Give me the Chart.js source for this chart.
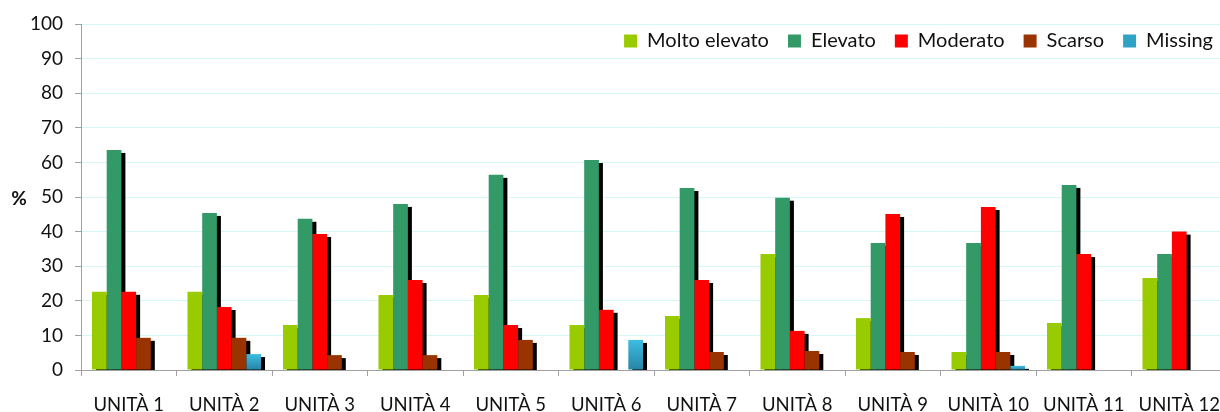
<!DOCTYPE html>
<html>
<head>
<meta charset="utf-8">
<script src="https://cdn.jsdelivr.net/npm/chart.js@4/dist/chart.umd.min.js"></script>
<style>
html,body{margin:0;padding:0;overflow:hidden;background:#fff;}
#wrap{width:1240px;height:412px;position:relative;}
</style>
</head>
<body>
<div id="wrap"><canvas id="c"></canvas></div>
<script>
const categories = ['UNITÀ 1','UNITÀ 2','UNITÀ 3','UNITÀ 4','UNITÀ 5','UNITÀ 6','UNITÀ 7','UNITÀ 8','UNITÀ 9','UNITÀ 10','UNITÀ 11','UNITÀ 12'];
const moltoElevato = [22.6, 22.6, 13.0, 21.7, 21.7, 13.0, 15.6, 33.5, 15.0, 5.2, 13.6, 26.6];
const elevato      = [63.6, 45.4, 43.7, 48.0, 56.4, 60.7, 52.6, 49.8, 36.7, 36.7, 53.5, 33.5];
const moderato     = [22.6, 18.2, 39.3, 26.0, 13.0, 17.4, 26.0, 11.3, 45.1, 47.1, 33.5, 40.0];
const scarso       = [9.3, 9.3, 4.3, 4.3, 8.7, null, 5.2, 5.5, 5.2, 5.2, null, null];
const missing      = [null, 4.6, null, null, null, 8.7, null, null, null, 1.2, null, null];
const seriesNames  = ['Molto elevato','Elevato','Moderato','Scarso','Missing'];
const yTicks = {min: 0, max: 100, step: 10};
const yTitle = '%';

const FONT = 'Lato, "Open Sans", sans-serif';

function missingColor(ctx) {
  const chart = ctx.chart;
  if (ctx.type !== 'data' || !chart.chartArea || ctx.raw == null) return '#2fa3c6';
  const y = chart.scales.y;
  const top = y.getPixelForValue(ctx.raw), bot = y.getPixelForValue(0);
  if (!(bot > top)) return '#2fa3c6';
  const g = chart.ctx.createLinearGradient(0, top, 0, bot);
  g.addColorStop(0, '#3dbde2');
  g.addColorStop(1, '#2784a5');
  return g;
}

const shadowPlugin = {
  id: 'barShadow',
  beforeInit(chart) {
    const lg = chart.legend;
    if (lg) {
      const orig = lg.fit;
      lg.fit = function () { orig.call(this); this.height = 0; };
    }
  },
  afterLayout(chart) {
    const lg = chart.legend;
    if (lg) {
      lg.top = chart.chartArea.top - 12;
      lg.height = 50;
      lg.bottom = lg.top + 50;
      lg.right = lg.right + 5;
      lg.width = lg.right - lg.left;
    }
  },
  beforeDatasetsDraw(chart) {
    const c = chart.ctx, a = chart.chartArea;
    c.save();
    c.beginPath();
    c.rect(a.left, a.top, a.right - a.left, a.bottom - a.top);
    c.clip();
    c.fillStyle = '#000';
    chart.getSortedVisibleDatasetMetas().forEach(meta => {
      meta.data.forEach(el => {
        const p = el.getProps(['x', 'y', 'base', 'width'], true);
        if (!isFinite(p.y) || !isFinite(p.base) || p.base - p.y < 0.5) return;
        c.fillRect(p.x - p.width / 2 + 4, p.y + 3, p.width, p.base - p.y);
      });
    });
    c.restore();
  },
  afterDraw(chart) {
    const c = chart.ctx, a = chart.chartArea;
    c.save();
    c.font = 'bold 19px ' + FONT;
    c.fillStyle = '#111';
    c.textAlign = 'center';
    c.textBaseline = 'middle';
    c.fillText(yTitle, a.left - 62, (a.top + a.bottom) / 2 + 2);
    c.restore();
  }
};

const colors = ['#99cc00', '#339966', '#ff0000', '#993300', missingColor];
const dataArrays = [moltoElevato, elevato, moderato, scarso, missing];

new Chart(document.getElementById('c'), {
  type: 'bar',
  data: {
    labels: categories,
    datasets: dataArrays.map((d, i) => ({
      label: seriesNames[i],
      data: d,
      backgroundColor: colors[i],
      borderWidth: 0,
      categoryPercentage: 0.77,
      barPercentage: 1.0
    }))
  },
  options: {
    responsive: true,
    maintainAspectRatio: false,
    animation: false,
    layout: {padding: {left: 0, right: 13, top: 24, bottom: 0}},
    plugins: {
      legend: {
        position: 'top',
        align: 'end',
        labels: {
          font: {family: FONT, size: 20},
          color: '#111',
          boxWidth: 13,
          boxHeight: 13,
          padding: 19
        }
      },
      tooltip: {enabled: false}
    },
    scales: {
      x: {
        afterFit(scale) { scale.height = 42; },
        grid: {display: true, drawOnChartArea: false, offset: true, tickLength: 6, tickColor: '#a0a0a0'},
        border: {color: '#a0a0a0', width: 1},
        ticks: {font: {family: FONT, size: 18.5}, color: '#111', padding: 18, maxRotation: 0, autoSkip: false}
      },
      y: {
        min: yTicks.min, max: yTicks.max,
        afterFit(scale) { scale.width = 81; },
        grid: {color: '#d3f8f8', tickColor: '#a0a0a0', tickLength: 6, lineWidth: 1},
        border: {color: '#a0a0a0', width: 1},
        ticks: {stepSize: yTicks.step, font: {family: FONT, size: 19}, color: '#111', padding: 12}
      }
    }
  },
  plugins: [shadowPlugin]
});
</script>
</body>
</html>
